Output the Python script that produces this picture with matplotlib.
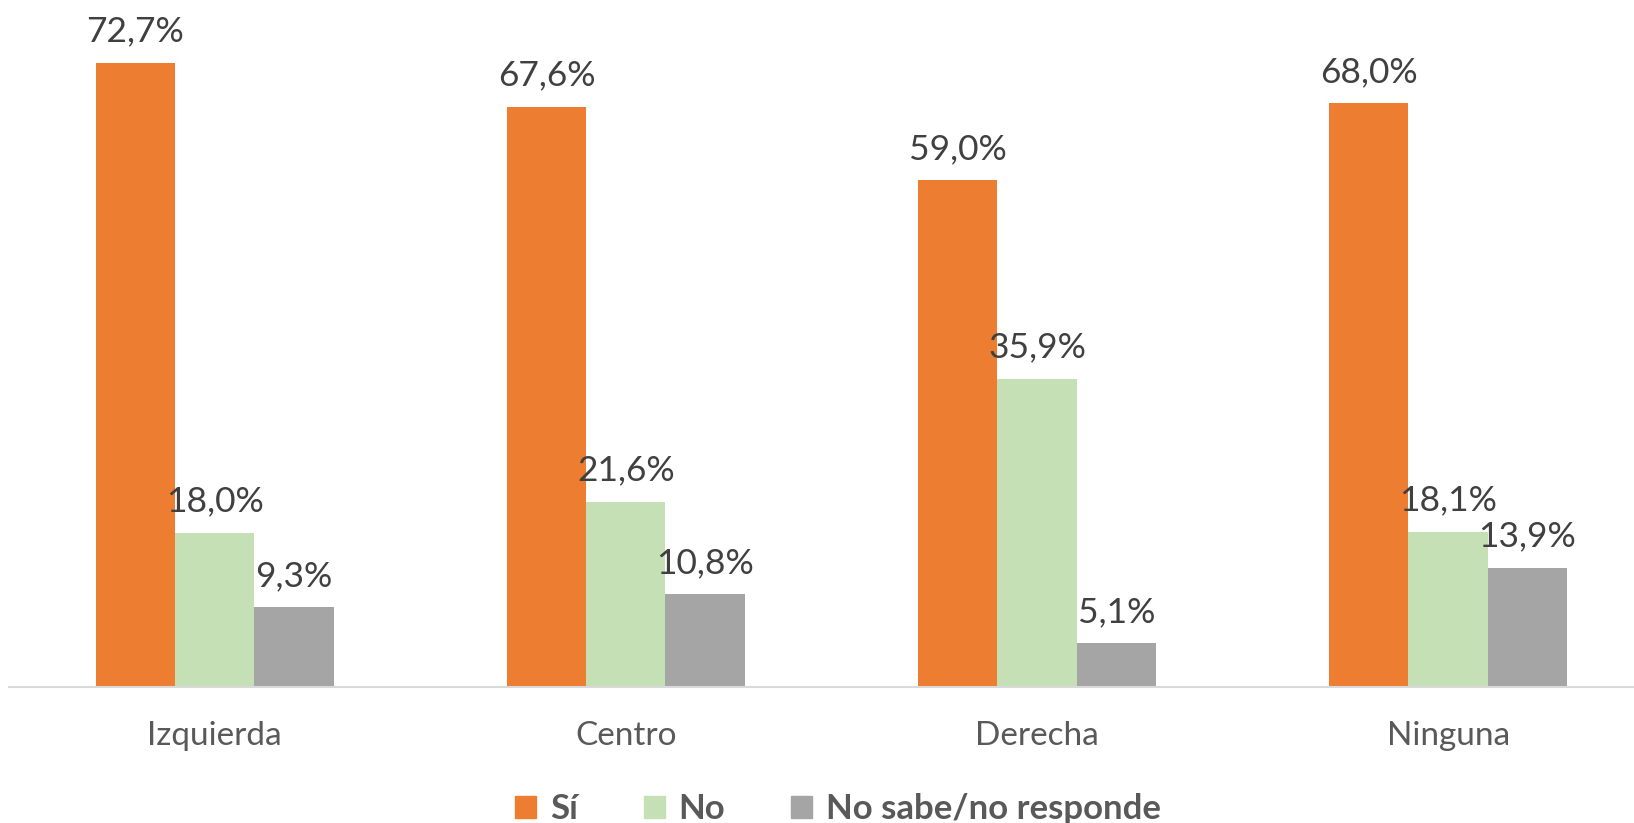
import matplotlib
matplotlib.use("Agg")
import matplotlib.pyplot as plt
from matplotlib.patches import Patch
import numpy as np

categories = ["Izquierda", "Centro", "Derecha", "Ninguna"]
series_names = ["Sí", "No", "No sabe/no responde"]
si = [72.7, 67.6, 59.0, 68.0]
no = [18.0, 21.6, 35.9, 18.1]
ns_nr = [9.3, 10.8, 5.1, 13.9]
colors = ["#ED7D31", "#C5E0B4", "#A5A5A5"]

plt.rcParams['font.family'] = ['Lato', 'DejaVu Sans']

fig = plt.figure(figsize=(16.34, 8.23), dpi=100)
ax = fig.add_axes([0.0055, 0.165, 0.994, 0.835])

x = np.arange(len(categories))
w = 0.193
for i, vals in enumerate([si, no, ns_nr]):
    bars = ax.bar(x + (i - 1) * w, vals, width=w, color=colors[i], label=series_names[i])
    for b, v in zip(bars, vals):
        ax.annotate(f"{v:.1f}%".replace(".", ","),
                    (b.get_x() + b.get_width() / 2, v),
                    xytext=(0, 11), textcoords="offset points",
                    ha="center", va="bottom", fontsize=25.5, color="#404040")

ax.set_xlim(-0.5, 3.45)
ax.set_ylim(0, 80)
ax.set_yticks([])
ax.set_xticks(x)
ax.set_xticklabels(categories, fontsize=24, color="#595959")
ax.tick_params(axis="x", length=0, pad=24)
for s in ["top", "right", "left"]:
    ax.spines[s].set_visible(False)
ax.spines["bottom"].set_color("#D9D9D9")
ax.spines["bottom"].set_linewidth(1.5)

handles = [Patch(color=c) for c in colors]
leg = fig.legend(handles, series_names, loc="lower center", bbox_to_anchor=(0.513, -0.041),
                 ncol=3, frameon=False, handlelength=0.6, handleheight=0.6,
                 handletextpad=0.4, columnspacing=1.9,
                 prop={"size": 25, "weight": "bold"})
for t in leg.get_texts():
    t.set_color("#595959")

fig.savefig("out.png", dpi=100)
